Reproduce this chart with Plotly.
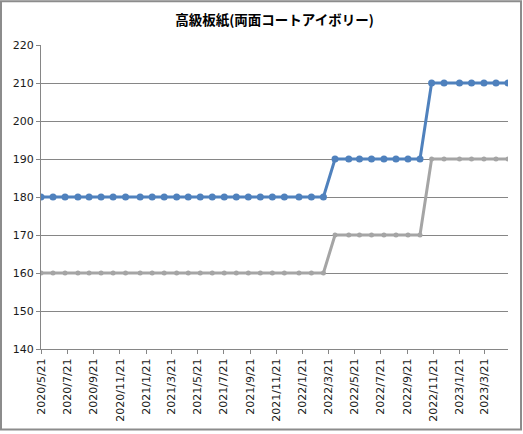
import plotly.graph_objects as go

# survey dates (roughly every 4 weeks)
dates = [
    "2020-05-21", "2020-06-18", "2020-07-16", "2020-08-15", "2020-09-10",
    "2020-10-08", "2020-11-05", "2020-12-04", "2021-01-07", "2021-02-04",
    "2021-03-04", "2021-04-02", "2021-04-29", "2021-05-27", "2021-06-24",
    "2021-07-22", "2021-08-19", "2021-09-16", "2021-10-14", "2021-11-11",
    "2021-12-09", "2022-01-12", "2022-02-10", "2022-03-10", "2022-04-06",
    "2022-05-08", "2022-06-02", "2022-06-30", "2022-07-29", "2022-08-26",
    "2022-09-23", "2022-10-21", "2022-11-17", "2022-12-16", "2023-01-21",
    "2023-02-18", "2023-03-19", "2023-04-16", "2023-05-14",
]
upper = [180] * 24 + [190] * 8 + [210] * 7
lower = [160] * 24 + [170] * 8 + [190] * 7

tick_dates = [
    "2020-05-21", "2020-07-21", "2020-09-21", "2020-11-21", "2021-01-21",
    "2021-03-21", "2021-05-21", "2021-07-21", "2021-09-21", "2021-11-21",
    "2022-01-21", "2022-03-21", "2022-05-21", "2022-07-21", "2022-09-21",
    "2022-11-21", "2023-01-21", "2023-03-21",
]
tick_text = [d[:4] + "/" + str(int(d[5:7])) + "/" + str(int(d[8:])) for d in tick_dates]

title = "高級板紙(両面コートアイボリー)"

W, H = 523, 434
ML, MR, MT, MB = 41, 15, 45, 83

fig = go.Figure()
fig.add_trace(go.Scatter(
    x=dates, y=lower, mode="lines+markers",
    line=dict(color="#A5A5A5", width=3),
    marker=dict(color="#A5A5A5", size=5),
))
fig.add_trace(go.Scatter(
    x=dates, y=upper, mode="lines+markers",
    line=dict(color="#4F81BD", width=3),
    marker=dict(color="#4F81BD", size=7),
))

# outer chart border
pw = W - ML - MR
ph = H - MT - MB
fig.add_shape(
    type="rect", xref="paper", yref="paper",
    x0=-(ML - 1) / pw, x1=1 + (MR - 2) / pw,
    y0=-(MB - 2) / ph, y1=1 + (MT - 1) / ph,
    line=dict(color="#8C8C8C", width=2),
)

fig.update_layout(
    width=W, height=H,
    margin=dict(l=ML, r=MR, t=MT, b=MB),
    paper_bgcolor="white", plot_bgcolor="white",
    showlegend=False,
    title=dict(
        text="<b>" + title + "</b>", x=0.5, xref="paper", y=0.953, yanchor="middle",
        font=dict(family="Noto Sans CJK JP", size=13.5, color="#000000"),
    ),
    font=dict(family="DejaVu Sans", size=11, color="#1a1a1a"),
    xaxis=dict(
        type="date",
        range=["2020-05-21", "2023-05-14"],
        tickmode="array", tickvals=tick_dates, ticktext=tick_text,
        tickangle=-90,
        ticks="outside", ticklen=4, tickcolor="#868686",
        showgrid=False, zeroline=False,
        showline=True, linecolor="#868686", linewidth=1,
        tickfont=dict(family="DejaVu Sans", size=11, color="#1a1a1a"),
    ),
    yaxis=dict(
        range=[140, 220], dtick=10,
        ticks="outside", ticklen=4, tickcolor="#868686",
        showgrid=True, gridcolor="#868686", gridwidth=1,
        zeroline=False,
        showline=True, linecolor="#868686", linewidth=1,
        tickfont=dict(family="DejaVu Sans", size=11, color="#1a1a1a"),
    ),
)

fig.write_html(
    "out.html",
    config={"displayModeBar": False},
    post_script="document.body.style.margin='0';",
)
